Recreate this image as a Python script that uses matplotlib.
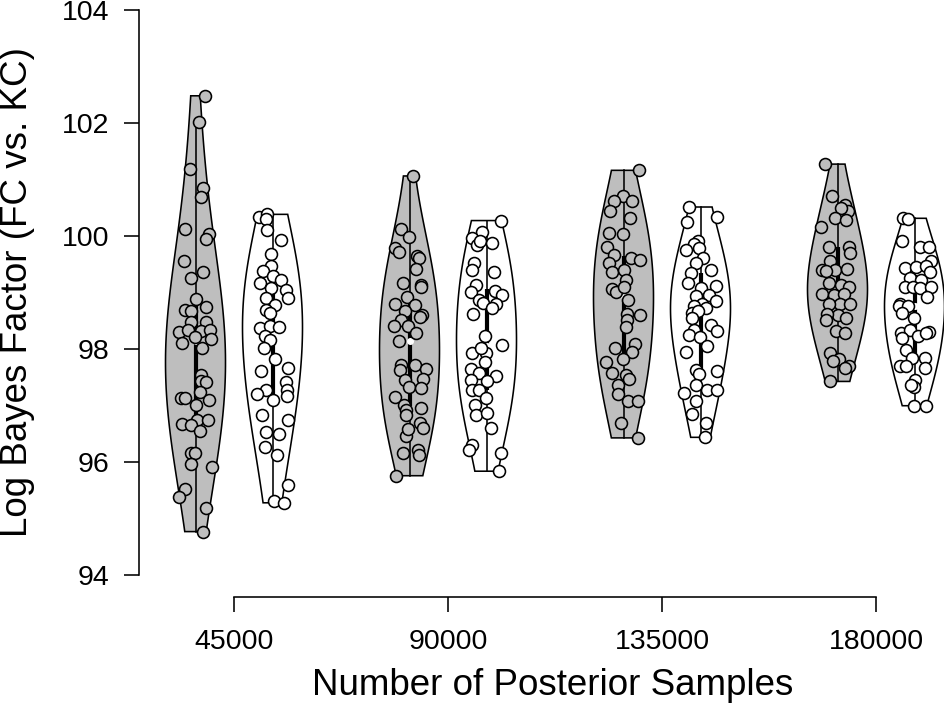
import numpy as np
import matplotlib
matplotlib.use("Agg")
import matplotlib.pyplot as plt

plt.rcParams['font.family'] = ['Liberation Sans', 'DejaVu Sans']

# ---------------- data ----------------
samples = [45000, 90000, 135000, 180000]
x_tick_labels = ["45000", "90000", "135000", "180000"]
y_ticks = [94, 96, 98, 100, 102, 104]
x_label = "Number of Posterior Samples"
y_label = "Log Bayes Factor (FC vs. KC)"

# grey violins (left of each pair)
grey_45000 = [102.48, 102.02, 101.18, 100.85, 100.68, 100.12, 100.03, 99.94, 99.56, 99.35,
              99.26, 98.88, 98.69, 98.66, 98.73, 98.48, 98.48, 98.29, 98.34, 98.31,
              98.34, 98.20, 98.18, 98.10, 98.01, 97.54, 97.42, 97.41, 97.23, 97.13,
              97.12, 97.09, 97.00, 96.74, 96.67, 96.65, 96.74, 96.55, 96.16, 96.15,
              95.96, 95.90, 95.52, 95.38, 95.17, 94.76]
grey_45000_jit = [9.7, 3.3, -6, 7.3, 5.7, -10.3, 13.3, 10, -11.7, 7.3,
                  -4.3, 0, -10.3, -4.3, 10.7, -4.3, 10.7, -16.7, -7.7, 5.7,
                  14.7, -1, 15, -13.7, 6.3, 5, 5, 10.7, 4.7, -14.3,
                  -10.3, 13.3, 0.7, 1.7, -13.3, -4.3, 12.3, 4, -5, -1,
                  -4.3, 16.7, -10.3, -17, 10, 7.3]

white_45000 = [100.34, 100.38, 100.30, 100.11, 99.93, 99.68, 99.46, 99.37, 99.28, 99.16,
               99.22, 99.07, 99.04, 98.90, 98.90, 98.78, 98.69, 98.63, 98.37, 98.41,
               98.38, 98.22, 98.16, 98.01, 97.82, 97.66, 97.60, 97.41, 97.26, 97.19,
               97.27, 97.16, 97.09, 96.83, 96.73, 96.52, 96.49, 96.26, 96.12, 95.58,
               95.30, 95.27]
white_45000_jit = [-14, -5.3, -7, -5.7, 8.7, -1.3, -1.3, -9.7, 0.3, -13,
                   8.7, -1.3, 13.7, 15.3, -7, 2, -7, -3, -13, -3,
                   6.3, -8, -3, -9, 2, 15.3, -12, 13.7, -6.3, -15.7,
                   14.7, 14.7, 0.3, -10.3, 15.3, -6.3, 6.3, -8, 4.7, 15.3,
                   1.3, 11]

grey_90000 = [101.06, 100.12, 99.98, 99.78, 99.71, 99.64, 99.61, 99.41, 99.16, 99.13,
              99.09, 98.91, 98.79, 98.78, 98.66, 98.60, 98.57, 98.51, 98.41, 98.41,
              98.28, 98.13, 97.72, 97.72, 97.64, 97.63, 97.46, 97.44, 97.33, 97.30,
              97.14, 97.01, 96.91, 96.95, 96.83, 96.69, 96.60, 96.45, 96.57, 96.15,
              96.21, 96.12, 95.75]
grey_90000_jit = [3.3, -8.3, -0.7, -15, -10.7, 7.3, 9.3, 6.7, -6.7, 11,
                  11.7, -2.3, -15, 5, -5, 12.7, 10, -8.3, -15.7, -1.7,
                  6.7, -10.7, -8.3, 5, 16, -9.3, 13.3, -5, -0.7, 11.7,
                  -15, -5.7, -3.3, 11.7, -3.3, 10, 13.3, -3.3, -1.7, -6.7,
                  8.3, 9.3, -13.3]

white_90000 = [100.27, 100.06, 99.96, 99.84, 99.90, 99.87, 99.52, 99.40, 99.35, 99.13,
               99.01, 99.03, 98.96, 98.87, 98.79, 98.81, 98.61, 98.72, 98.22, 98.07,
               97.92, 97.92, 98.01, 97.76, 97.64, 97.57, 97.52, 97.45, 97.42, 97.27,
               97.27, 97.13, 97.01, 96.83, 96.86, 96.60, 96.30, 96.21, 96.16, 95.83]
white_90000_jit = [14, -5, -14.4, -9.4, -7, 5, -12.7, -14.4, 7.3, -10.4,
                   -15.4, 8.3, 15, -7.7, 9, -3.7, -13.7, 5.6, -1.7, 15,
                   -14.4, -1, -6, -1.7, -16, -7.7, 9, -16, 0.6, -15,
                   -7.7, -1, -11.7, -11, 0.6, 4, -14.4, -17.7, 14, 12.3]

grey_135000 = [101.16, 100.70, 100.61, 100.61, 100.44, 100.31, 100.05, 100.04, 99.80, 99.66,
               99.61, 99.58, 99.52, 99.36, 99.40, 99.22, 99.06, 99.01, 99.10, 98.87,
               98.61, 98.60, 98.50, 98.38, 98.08, 97.94, 98.01, 97.76, 97.82, 97.57,
               97.53, 97.36, 97.47, 97.20, 97.07, 97.07, 96.68, 96.42]
grey_135000_jit = [15.7, -1, -10, 8, -13.3, 6.7, -14.3, -1, -16.6, -10,
                   7.4, 16.7, -14.3, -12, 0, 2.4, -11.6, -7.6, 0.7, 4,
                   3.4, 16.7, 3, 2.4, 11.7, 8, -8.3, -17.6, -1, -11.6,
                   2.4, -6, 5.7, -6, 4, 14, -2.6, 14]

white_135000 = [100.51, 100.33, 100.25, 99.91, 99.85, 99.78, 99.75, 99.60, 99.52, 99.40,
                99.34, 99.16, 99.11, 99.07, 98.96, 98.93, 98.84, 98.79, 98.75, 98.72,
                98.63, 98.66, 98.42, 98.54, 98.34, 98.32, 98.25, 98.20, 98.04, 97.95,
                97.63, 97.61, 97.55, 97.36, 97.21, 97.08, 97.27, 97.27, 96.84, 96.68,
                96.43]
white_135000_jit = [-11.7, 16, -13.4, -2.7, -6.7, -1.7, -15, 2.6, -5, 10.6,
                    -9.4, -12.4, 15, 0, 8.3, -5, 15, 1.6, -6.7, 5.6,
                    -8.4, -2.7, 10, -8.4, -6.7, 16.6, -11.7, -0.7, 6.6, -15,
                    -5, 16, -1.7, -5, -16.7, -5, 6.6, 16.6, -8.4, 5,
                    4.3]

grey_180000 = [101.27, 100.71, 100.55, 100.44, 100.49, 100.31, 100.28, 100.15, 99.81, 99.81,
               99.69, 99.55, 99.40, 99.40, 99.41, 99.37, 99.16, 99.12, 99.09, 98.97,
               98.96, 98.97, 98.80, 98.80, 98.80, 98.60, 98.54, 98.62, 98.51, 98.31,
               98.28, 97.92, 97.82, 97.79, 97.69, 97.66, 97.42]
grey_180000_jit = [-12.3, -5.7, 7, 10.3, 3.7, -2.3, 8.3, -16.3, -8.3, 11.7,
                   12.7, -7.3, -15.7, -2.3, 9.3, -11.7, -8.3, 3.7, 11, -15.7,
                   -4, 6, 2.7, 12.7, -9, 0.3, 8.3, -10.7, -11.7, -1.7,
                   7, -7.3, 1, -5, 11, 7, -7.3]

white_180000 = [100.31, 100.29, 99.90, 99.80, 99.81, 99.55, 99.43, 99.45, 99.46, 99.35,
                99.25, 99.22, 99.10, 99.10, 99.07, 99.10, 98.91, 98.80, 98.75, 98.75,
                98.63, 98.54, 98.28, 98.34, 98.22, 98.29, 98.27, 98.19, 97.98, 97.83,
                97.70, 97.69, 97.83, 97.66, 97.45, 97.32, 97.35, 96.99, 96.99]
white_180000_jit = [-11.7, -6.7, -12.3, 5, 14.3, 16.7, -10, 1.7, 11.7, 15,
                    -5, 6.7, -10, -1.7, 5, 16.7, 12.3, -15, -15.7, -6.7,
                    -12.3, -1, -13.3, -4.3, 3.3, 14.3, 11.7, -12.3, -8.3, -2.3,
                    -15, -8.3, 10, 10, 0, -1, -4, -1, 11.7]

grey_sets = [(grey_45000, grey_45000_jit), (grey_90000, grey_90000_jit),
             (grey_135000, grey_135000_jit), (grey_180000, grey_180000_jit)]
white_sets = [(white_45000, white_45000_jit), (white_90000, white_90000_jit),
              (white_135000, white_135000_jit), (white_180000, white_180000_jit)]

# ---------------- layout ----------------
W, H = 944, 703
fig = plt.figure(figsize=(W / 100, H / 100), dpi=100)

PX_X0, PX_X1 = 234.0, 876.0          # pixel of 45000 and 180000
PX_Y94, PX_Y104 = 574.5, 10.0        # pixel of 94 and 104
kx = (PX_X1 - PX_X0) / (180000 - 45000)
ky = (PX_Y94 - PX_Y104) / 10.0

ax_left_px, ax_right_px, ax_top_px, ax_bot_px = 139.3, 944.0, 0.0, 597.0
ax = fig.add_axes([ax_left_px / W, 1 - ax_bot_px / H,
                   (ax_right_px - ax_left_px) / W, (ax_bot_px - ax_top_px) / H])
ax.set_xlim(45000 + (ax_left_px - PX_X0) / kx, 45000 + (ax_right_px - PX_X0) / kx)
ax.set_ylim(94 - (ax_bot_px - PX_Y94) / ky, 94 + (PX_Y94 - ax_top_px) / ky)
ax.patch.set_alpha(0)

OFFSET = 38.5 / kx        # shift of each violin from the tick
HALF_W = 30.0 / kx        # max half width of violins
GREY = '#BEBEBE'
LW = 1.15
BW_FACTOR = 1.55


def violin(center, data, jit, fill):
    d = np.asarray(data, float)
    n = len(d)
    h = BW_FACTOR * d.std(ddof=1) * (4.0 / (3.0 * n)) ** 0.2
    grid = np.linspace(d.min(), d.max(), 80)
    dens = np.exp(-0.5 * ((grid[:, None] - d[None, :]) / h) ** 2).sum(1)
    half = dens / dens.max() * HALF_W
    xs = np.concatenate([center - half, (center + half)[::-1]])
    ys = np.concatenate([grid, grid[::-1]])
    ax.fill(xs, ys, facecolor=fill, edgecolor='black', lw=LW, zorder=2)
    q1, med, q3 = np.percentile(d, [25, 50, 75])
    iqr = q3 - q1
    lo = max(q1 - 1.5 * iqr, d.min())
    hi = min(q3 + 1.5 * iqr, d.max())
    ax.plot([center, center], [lo, hi], color='black', lw=LW, zorder=3)
    ax.plot([center, center], [q1, q3], color='black', lw=3.0,
            solid_capstyle='butt', zorder=3)
    ax.plot([center], [med], 'o', color='white', ms=4, zorder=3.5)
    xj = center + np.asarray(jit, float) / kx
    ax.plot(xj, d, 'o', ls='none', ms=8.6, mfc=fill, mec='black', mew=LW,
            zorder=4, clip_on=False)


for s, (gv, gj), (wv, wj) in zip(samples, grey_sets, white_sets):
    violin(s - OFFSET, gv, gj, GREY)
    violin(s + OFFSET, wv, wj, 'white')

# axes styling (R-like detached axes)
for sp in ['top', 'right']:
    ax.spines[sp].set_visible(False)
ax.spines['left'].set_bounds(94, 104)
ax.spines['bottom'].set_bounds(45000, 180000)
ax.spines['left'].set_linewidth(LW)
ax.spines['bottom'].set_linewidth(LW)

ax.set_yticks(y_ticks)
ax.set_yticklabels([str(t) for t in y_ticks])
ax.set_xticks(samples)
ax.set_xticklabels(x_tick_labels)
ax.tick_params(axis='both', direction='out', length=10.8, width=LW,
               labelsize=20.5, colors='black')
ax.tick_params(axis='y', pad=10.5)
ax.tick_params(axis='x', pad=12)

fig.text(553 / W, 1 - 695 / H, x_label, fontsize=26.5, ha='center', va='baseline')
fig.text(27.5 / W, 1 - 292 / H, y_label, fontsize=26.5, ha='center', va='baseline',
         rotation=90, rotation_mode='anchor')

fig.savefig('out.png', dpi=100)
